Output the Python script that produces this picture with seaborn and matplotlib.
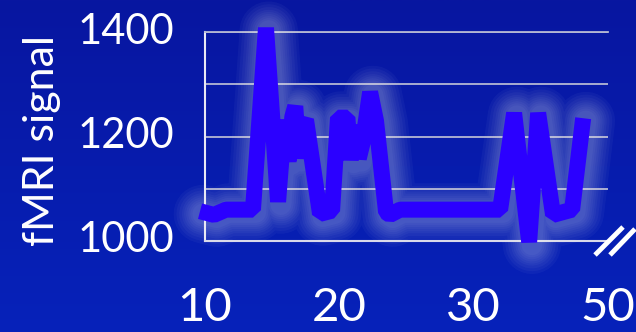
import numpy as np
import matplotlib
matplotlib.use("Agg")
import matplotlib.pyplot as plt
import matplotlib.patheffects as pe
import matplotlib.transforms as mtransforms
from matplotlib.colors import LinearSegmentedColormap
from matplotlib.lines import Line2D
import seaborn as sns

# time course
time = [9.63, 10.67, 11.56, 13.57, 14.54, 15.44, 15.92, 16.22, 16.50, 16.72,
        16.98, 17.22, 17.52, 18.56, 19.46, 19.90, 20.60, 20.85, 21.15, 21.45,
        21.75, 22.29, 22.73, 23.48, 23.77, 24.52, 31.97, 33.01, 34.13, 34.80,
        35.91, 37.33, 38.15]
signal = [1057, 1050, 1060, 1060, 1408, 1075, 1232, 1152, 1238, 1258,
          1158, 1222, 1232, 1052, 1058, 1236, 1236, 1155, 1222, 1158,
          1190, 1285, 1230, 1055, 1050, 1060, 1060, 1245, 998, 1245,
          1050, 1060, 1235]

x_ticks = [10, 20, 30, 40]
x_tick_labels = ["10", "20", "30", "50"]
y_ticks = [1000, 1200, 1400]
y_minor = [1100, 1300]

sns.set_theme(style="white")
plt.rcParams["font.family"] = ["Lato", "DejaVu Sans"]

W, H = 636, 332
fig = plt.figure(figsize=(W / 100, H / 100), dpi=100)

# background gradient
bg = fig.add_axes([0, 0, 1, 1], zorder=-1)
grad = np.linspace(0, 1, 256).reshape(-1, 1)
cmap = LinearSegmentedColormap.from_list("bg", ["#0816a0", "#0622ba"])
bg.imshow(grad, aspect="auto", cmap=cmap, extent=[0, 1, 0, 1], origin="upper")
bg.axis("off")

ax = fig.add_axes([205 / W, 1 - 241 / H, 403 / W, 209 / H])
ax.set_facecolor("none")

# soft white glow behind the line
glow = [pe.Stroke(linewidth=w, foreground="white", alpha=0.035, offset=(2, -2),
                  joinstyle="round", capstyle="round")
        for w in (42, 38, 34, 30, 27, 24, 21, 18, 15)]
sns.lineplot(x=time, y=signal, sort=False, estimator=None, ax=ax,
             color="#2b00ff", linewidth=11.5, solid_joinstyle="bevel",
             solid_capstyle="butt", clip_on=False, zorder=5,
             path_effects=glow + [pe.Normal()])

ax.set_xlim(10, 40)
ax.set_ylim(1000, 1400)
ax.set_xticks(x_ticks, x_tick_labels)
ax.set_yticks(y_ticks)
ax.set_yticks(y_minor, minor=True)
ax.grid(axis="y", which="both", color="#b4b8d4", linewidth=1.3)
ax.grid(axis="x", visible=False)
ax.set_axisbelow(True)
ax.set_xlabel("")
ax.set_ylabel("")

ax.spines["right"].set_visible(False)
ax.spines["left"].set_color("#e8e8f4")
ax.spines["left"].set_linewidth(1.5)
ax.spines["bottom"].set_color("#d8d8ea")
ax.spines["bottom"].set_linewidth(1.5)
ax.spines["top"].set_color("#b4b8d4")
ax.spines["top"].set_linewidth(1.3)

ax.tick_params(axis="x", which="both", length=0, pad=33, labelsize=34, labelcolor="white")
ax.tick_params(axis="y", which="both", length=0, pad=22, labelsize=30, labelcolor="white")

shift = mtransforms.ScaledTranslation(0, 4 / 100, fig.dpi_scale_trans)
for lbl in ax.get_yticklabels():
    lbl.set_transform(lbl.get_transform() + shift)

fig.text(42 / W, 1 - 140 / H, "fMRI signal", rotation=90, color="white",
         fontsize=31, ha="center", va="center")

# axis break marks
for (x0, y0, x1, y1) in [(595, 255, 623, 227), (610, 255, 635, 229)]:
    fig.add_artist(Line2D([x0 / W, x1 / W], [1 - y0 / H, 1 - y1 / H],
                          transform=fig.transFigure, color="white", linewidth=3.5,
                          solid_capstyle="butt"))

plt.savefig("out.png", dpi=100)
